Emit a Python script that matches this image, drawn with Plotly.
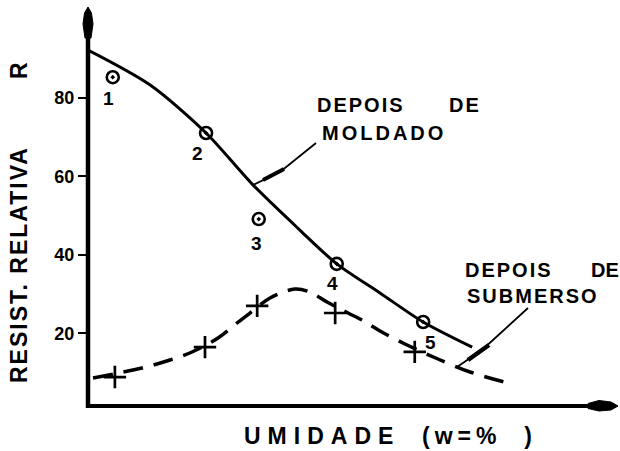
import plotly.graph_objects as go

# ---------------- data ----------------
# smooth curve "DEPOIS DE MOLDADO" (relative strength R vs moisture, arbitrary x units)
molded_x = [0, 11.8, 22.4, 31.3, 40.2, 47.2, 55.4, 63.6, 72.9]
molded_r = [92.1, 83.2, 71.0, 57.8, 46.3, 37.7, 30.3, 22.9, 16.5]

# measured points (circles) with their numbers
pts_x = [4.7, 22.4, 32.4, 47.2, 63.6]
pts_r = [85.2, 71.0, 49.1, 37.7, 22.9]
pts_labels = ["1", "2", "3", "4", "5"]

# dashed curve "DEPOIS DE SUBMERSO"
sub_x = [0.95, 10.25, 15.56, 19.73, 24.67, 28.27, 30.74, 34.54, 39.28, 42.13,
         45.35, 49.34, 51.99, 55.41, 60.15, 66.41, 72.49, 79.70]
sub_r = [8.65, 11.20, 13.23, 15.27, 18.83, 22.65, 25.19, 29.01, 31.30, 30.53,
         27.99, 25.19, 23.41, 20.61, 17.30, 13.49, 10.18, 7.38]

# measured points (crosses) after immersion
plus_x = [5.1, 22.2, 32.1, 46.9, 62.0]
plus_r = [8.9, 16.5, 27.0, 25.2, 15.3]

y_ticks = [20, 40, 60, 80]
y_ticklabels = ["20", "40", "60", "80"]

# ---------------- layout helpers ----------------
W, H = 620, 451
L, R_, T, B = 88, 5, 10, 45
PW, PH = W - L - R_, H - T - B


def pp(px, py):
    """pixel -> paper coordinates"""
    return (px - L) / PW, (H - B - py) / PH


def path(points):
    s = ""
    for i, (a, b) in enumerate(points):
        x, y = pp(a, b)
        s += ("M" if i == 0 else "L") + f"{x:.5f},{y:.5f} "
    return s + "Z"


def line_path(points):
    s = ""
    for i, (a, b) in enumerate(points):
        x, y = pp(a, b)
        s += ("M" if i == 0 else "L") + f"{x:.5f},{y:.5f} "
    return s


FONT = "Liberation Sans, Arial, sans-serif"

fig = go.Figure()

fig.add_trace(go.Scatter(
    x=sub_x, y=sub_r, mode="lines",
    line=dict(color="black", width=3.5, dash="20px,11px", shape="spline", smoothing=0.9),
    hoverinfo="skip"))

fig.add_trace(go.Scatter(
    x=molded_x, y=molded_r, mode="lines",
    line=dict(color="black", width=3, shape="spline", smoothing=0.8),
    hoverinfo="skip"))

fig.add_trace(go.Scatter(
    x=pts_x, y=pts_r, mode="markers",
    marker=dict(symbol="circle-open-dot", size=12, color="black",
                line=dict(color="black", width=2.6)),
    hoverinfo="skip"))

fig.add_trace(go.Scatter(
    x=plus_x, y=plus_r, mode="markers",
    marker=dict(symbol="cross-thin-open", size=16, color="black",
                line=dict(color="black", width=2.7)),
    hoverinfo="skip"))

annotations = []
label_offsets = [(-4, -21), (-9, -20), (-2, -24), (-4, -20), (7, -20)]
for x, y, t, (dx, dy) in zip(pts_x, pts_r, pts_labels, label_offsets):
    annotations.append(dict(x=x, y=y, xref="x", yref="y", text=t, showarrow=False,
                            xshift=dx, yshift=dy,
                            font=dict(family=FONT, size=19, color="black", weight="bold")))


def txt(text, px, py, size=20, spacing=2, anchor="left", angle=0):
    x, y = pp(px, py)
    annotations.append(dict(
        x=x, y=y, xref="paper", yref="paper", showarrow=False,
        text=f"<span style='letter-spacing:{spacing}px'>{text}</span>",
        xanchor=anchor, yanchor="middle", textangle=angle,
        font=dict(family=FONT, size=size, color="black", weight="bold")))


txt("DEPOIS", 315, 105)
txt("DE", 447, 105)
txt("MOLDADO", 320, 133, spacing=3)
txt("DEPOIS", 463, 270)
txt("DE", 589, 270, spacing=0)
txt("SUBMERSO", 465, 296)

txt("UMIDADE", 242, 436, size=23, spacing=7)
txt("(w=%&nbsp;&nbsp;)", 420, 436, size=23, spacing=5)
txt("RESIST. RELATIVA", 19, 265, size=23, spacing=2, anchor="center", angle=-90)
txt("R", 19, 71, size=23, spacing=0, anchor="center", angle=-90)

shapes = []
# axes
x0, y0 = pp(88, 406)
x1, y1 = pp(88, 30)
shapes.append(dict(type="line", xref="paper", yref="paper", x0=x0, y0=pp(88, 408)[1], x1=x1, y1=y1,
                   line=dict(color="black", width=4.5)))
x1, y1 = pp(595, 406)
shapes.append(dict(type="line", xref="paper", yref="paper", x0=pp(86, 406)[0], y0=y0, x1=x1, y1=y1,
                   line=dict(color="black", width=4)))
# arrow heads
shapes.append(dict(type="path", xref="paper", yref="paper",
                   path=path([(88, 7), (91.5, 13), (93, 24), (91, 38), (85, 38), (83, 24), (84.5, 13)]),
                   fillcolor="black", line=dict(color="black", width=1)))
shapes.append(dict(type="path", xref="paper", yref="paper",
                   path=path([(618, 406), (611, 402), (599, 400.5), (588, 403.5), (588, 408.5),
                              (599, 411), (611, 410)]),
                   fillcolor="black", line=dict(color="black", width=1)))
# leader lines
shapes.append(dict(type="path", xref="paper", yref="paper",
                   path=line_path([(253, 185), (280, 172), (316, 143)]),
                   line=dict(color="black", width=1.8)))
shapes.append(dict(type="path", xref="paper", yref="paper",
                   path=line_path([(263, 180), (284, 169)]),
                   line=dict(color="black", width=4)))
shapes.append(dict(type="path", xref="paper", yref="paper",
                   path=line_path([(457, 367), (482, 350), (528, 308)]),
                   line=dict(color="black", width=1.8)))
shapes.append(dict(type="path", xref="paper", yref="paper",
                   path=line_path([(468, 360), (489, 345)]),
                   line=dict(color="black", width=4.5)))

fig.update_layout(
    width=W, height=H,
    margin=dict(l=L, r=R_, t=T, b=B, pad=0),
    paper_bgcolor="white", plot_bgcolor="white",
    showlegend=False,
    annotations=annotations,
    shapes=shapes,
    xaxis=dict(range=[0, 100], showgrid=False, zeroline=False, showline=False,
               showticklabels=False, ticks=""),
    yaxis=dict(range=[1.53, 102.3], showgrid=False, zeroline=False, showline=False,
               tickvals=y_ticks, ticktext=y_ticklabels, ticks="outside", ticklen=9,
               tickwidth=2, tickcolor="black",
               tickfont=dict(family=FONT, size=18, color="black", weight="bold")),
)

fig.write_html("out.html",
               config={"displayModeBar": False},
               post_script="document.body.style.margin='0';document.body.style.padding='0';")
